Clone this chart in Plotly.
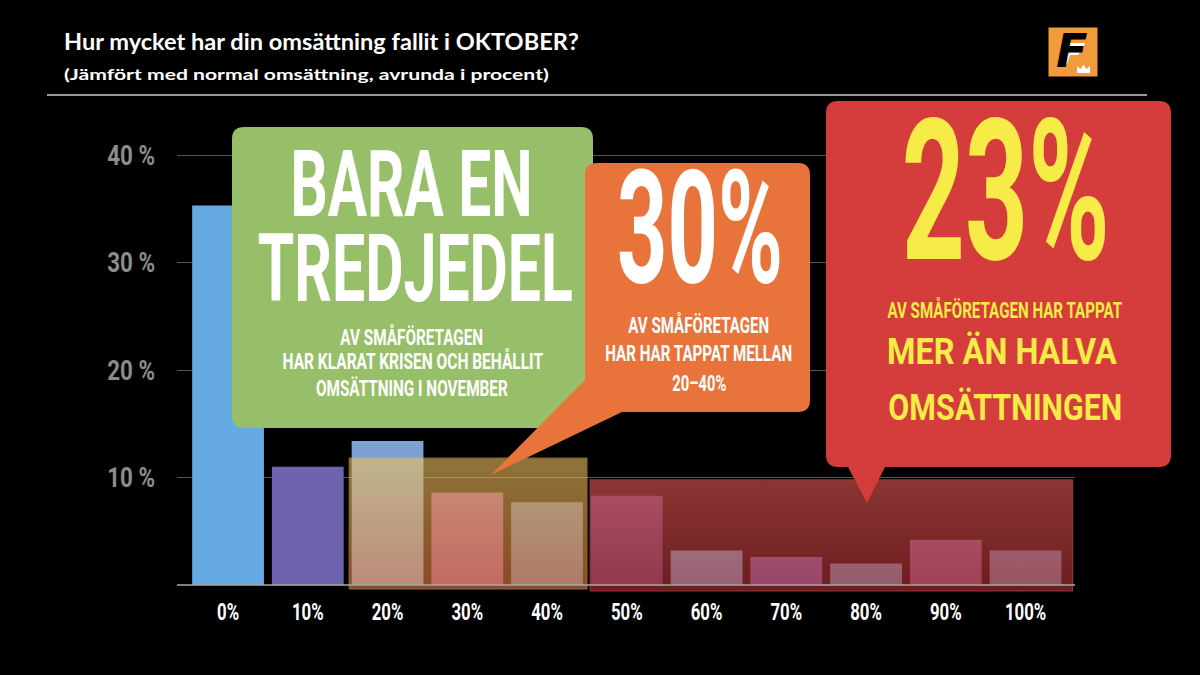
import json
import plotly.graph_objects as go

# ---------------- data ----------------
categories = ["0%", "10%", "20%", "30%", "40%", "50%", "60%", "70%", "80%", "90%", "100%"]
shares = [35.3, 11.0, 13.4, 8.6, 7.7, 8.3, 3.2, 2.6, 2.0, 4.2, 3.2]
y_tick_vals = [10, 20, 30, 40]
y_tick_text = ["10 %", "20 %", "30 %", "40 %"]

bar_colors = ["#66AAE3", "#6D63AE", "#7DA1D3", "#8F4B98", "#5A76A8", "#564478",
              "#62AFD7", "#6964B9", "#629BBE", "#735891", "#628CAC"]

# highlighted category groups (index ranges) drawn as translucent gradient panels
highlight_groups = [
    dict(first=2, last=4, pad_l=0.48, pad_r=0.50, top=11.8, bottom=-0.37,
         c_top="#EDC35F", c_bot="#E67B3E", edge="#F0B050"),
    dict(first=5, last=10, pad_l=0.46, pad_r=0.59, top=9.77, bottom=-0.56,
         c_top="#E65A57", c_bot="#B72F32", edge="#E06060"),
]

# ---------------- layout geometry ----------------
W, H = 1200, 675
ML, MR, MT, MB = 177, 125, 140, 75
PW, PH = W - ML - MR, H - MT - MB


def fx(x):
    return (x - ML) / PW


def fy(y):
    return (H - MB - y) / PH


def path(cmds):
    out = []
    for op, pts in cmds:
        if op == "Z":
            out.append("Z")
            continue
        coords = [f"{fx(pts[i]):.5f},{fy(pts[i + 1]):.5f}" for i in range(0, len(pts), 2)]
        out.append(op + " " + " ".join(coords))
    return " ".join(out)


COND = "Roboto, 'DejaVu Sans', sans-serif"
TITLE_FONT = "Lato, 'Open Sans', sans-serif"

fig = go.Figure()

fig.add_trace(go.Bar(
    x=list(range(len(categories))), y=shares, width=0.9,
    marker=dict(color=bar_colors, line=dict(width=0)),
    hoverinfo="skip", showlegend=False,
))

for g in highlight_groups:
    x0 = g["first"] - g["pad_l"]
    x1 = g["last"] + g["pad_r"]
    fig.add_trace(go.Scatter(
        x=[x0, x1, x1, x0, x0], y=[g["bottom"], g["bottom"], g["top"], g["top"], g["bottom"]],
        mode="lines", line=dict(width=1.2, color=g["edge"]), fill="toself",
        fillgradient=dict(type="vertical", colorscale=[[0, g["c_bot"]], [1, g["c_top"]]]),
        opacity=0.6, hoverinfo="skip", showlegend=False,
    ))

shapes = []
# separator under title
shapes.append(dict(type="line", xref="paper", yref="paper", x0=fx(47), x1=fx(1147), y0=fy(95), y1=fy(95),
                   line=dict(color="#9A9A9A", width=2), layer="above"))
# baseline
shapes.append(dict(type="line", xref="paper", yref="y", x0=0, x1=1, y0=0, y1=0,
                   line=dict(color="#A8A8A8", width=1.5), layer="above"))

# green callout
gx0, gy0, gx1, gy1, r = 232, 127, 593, 428, 12
shapes.append(dict(type="path", xref="paper", yref="paper", layer="above", fillcolor="#97BF69",
                   line=dict(width=0), path=path([
                       ("M", [gx0 + r, gy0]), ("L", [gx1 - r, gy0]), ("Q", [gx1, gy0, gx1, gy0 + r]),
                       ("L", [gx1, gy1 - r]), ("Q", [gx1, gy1, gx1 - r, gy1]), ("L", [gx0 + r, gy1]),
                       ("Q", [gx0, gy1, gx0, gy1 - r]), ("L", [gx0, gy0 + r]), ("Q", [gx0, gy0, gx0 + r, gy0]),
                       ("Z", [])])))
# orange callout
ox0, oy0, ox1, oy1 = 585, 163, 810, 412
shapes.append(dict(type="path", xref="paper", yref="paper", layer="above", fillcolor="#E8743B",
                   line=dict(width=0), path=path([
                       ("M", [ox0 + r, oy0]), ("L", [ox1 - r, oy0]), ("Q", [ox1, oy0, ox1, oy0 + r]),
                       ("L", [ox1, oy1 - r]), ("Q", [ox1, oy1, ox1 - r, oy1]), ("L", [622, oy1]),
                       ("L", [491, 475]), ("L", [ox0, 380]), ("L", [ox0, oy0 + r]),
                       ("Q", [ox0, oy0, ox0 + r, oy0]), ("Z", [])])))
# red callout
rx0, ry0, rx1, ry1 = 826, 101, 1171, 467
shapes.append(dict(type="path", xref="paper", yref="paper", layer="above", fillcolor="#D43D3C",
                   line=dict(width=0), path=path([
                       ("M", [rx0 + r, ry0]), ("L", [rx1 - r, ry0]), ("Q", [rx1, ry0, rx1, ry0 + r]),
                       ("L", [rx1, ry1 - r]), ("Q", [rx1, ry1, rx1 - r, ry1]), ("L", [885, ry1]),
                       ("L", [867, 503]), ("L", [848, ry1]), ("L", [rx0 + r, ry1]),
                       ("Q", [rx0, ry1, rx0, ry1 - r]), ("L", [rx0, ry0 + r]),
                       ("Q", [rx0, ry0, rx0 + r, ry0]), ("Z", [])])))
# logo
shapes.append(dict(type="rect", xref="paper", yref="paper", x0=fx(1048), x1=fx(1098), y0=fy(77), y1=fy(27),
                   fillcolor="#F29B3D", line=dict(color="#000000", width=1), layer="above"))
# white inner highlight of the F
shapes.append(dict(type="path", xref="paper", yref="paper", layer="above", fillcolor="#FFFFFF",
                   line=dict(width=0), path=path([
                       ("M", [1069, 43]), ("L", [1085, 43]), ("L", [1083.5, 47]), ("L", [1073, 47]),
                       ("L", [1071.5, 51]), ("L", [1080, 51]), ("L", [1078.5, 55]), ("L", [1070, 55]),
                       ("L", [1067, 64]), ("L", [1064, 64]), ("Z", [])])))
shapes.append(dict(type="path", xref="paper", yref="paper", layer="above", fillcolor="#FFFFFF",
                   line=dict(width=0), path=path([
                       ("M", [1077, 73]), ("L", [1077, 66]), ("L", [1080.5, 69]), ("L", [1083.5, 64.5]),
                       ("L", [1086.5, 69]), ("L", [1090, 66]), ("L", [1090, 73]), ("Z", [])])))

annotations = []
targets = []


def txt(text, cx, cy, size, color, width=None, family=COND, anchor="center", weight=700, style="normal"):
    annotations.append(dict(
        text=text, xref="paper", yref="paper", x=fx(cx), y=fy(cy), xanchor=anchor, yanchor="middle",
        showarrow=False, align="left" if anchor == "left" else "center",
        font=dict(family=family, size=size, color=color, weight=weight, style=style),
    ))
    targets.append([width, anchor] if width else None)


WHITE = "#FFFFFF"
YELLOW = "#F7EB47"

txt("Hur mycket har din omsättning fallit i OKTOBER?", 62, 41, 22, WHITE, 515, TITLE_FONT, "left")
txt("(Jämfört med normal omsättning, avrunda i procent)", 62, 73, 16, WHITE, 485, TITLE_FONT, "left")

txt("BARA EN", 411, 184.5, 92, WHITE, 242)
txt("TREDJEDEL", 415.5, 268.5, 94, WHITE, 315)
txt("AV SMÅFÖRETAGEN", 411.5, 337, 22, WHITE, 143)
txt("HAR KLARAT KRISEN OCH BEHÅLLIT", 412.5, 361, 22, WHITE, 261)
txt("OMSÄTTNING I NOVEMBER", 412, 388, 22, WHITE, 192)

txt("30%", 700, 228, 158, WHITE, 166)
txt("AV SMÅFÖRETAGEN", 698, 325, 22, WHITE, 141)
txt("HAR HAR TAPPAT MELLAN", 698.5, 353, 22, WHITE, 187)
txt("20–40%", 699, 383, 22, WHITE, 54)

txt("23%", 1006, 191.7, 197, YELLOW, 208)
txt("AV SMÅFÖRETAGEN HAR TAPPAT", 1004.5, 309.5, 22, YELLOW, 235)
txt("MER ÄN HALVA", 1002, 351.3, 37, YELLOW, 230)
txt("OMSÄTTNINGEN", 1005, 407, 37, YELLOW, 234)

# logo letter
txt("F", 1071, 51, 46, "#000000", None, "'DejaVu Sans', sans-serif", "center", 700, "italic")

fig.update_layout(
    width=W, height=H, margin=dict(l=ML, r=MR, t=MT, b=MB),
    paper_bgcolor="#000000", plot_bgcolor="#000000",
    showlegend=False, shapes=shapes, annotations=annotations,
    bargap=0.1,
    xaxis=dict(range=[-0.64, 10.62], tickvals=list(range(len(categories))), ticktext=categories,
               showgrid=False, zeroline=False, showline=False, ticks="", ticklabelstandoff=-5,
               tickfont=dict(family=COND, size=24, color=WHITE, weight=700), fixedrange=True),
    yaxis=dict(range=[-1.395, 41.395], tickvals=y_tick_vals, ticktext=y_tick_text,
               showgrid=True, gridcolor="#555555", gridwidth=1, zeroline=False, showline=False,
               ticks="", ticklabelstandoff=21,
               tickfont=dict(family=COND, size=28, color="#8C8C8C", weight=700), fixedrange=True),
)

post_js = """
document.documentElement.style.margin = '0';
document.body.style.margin = '0';
document.body.style.padding = '0';
document.body.style.background = '#000';
var gd = document.getElementById('{plot_id}');
var T = TARGETS;
function squeeze(el, s, pivot){
  var bb = el.getBBox();
  var p = pivot === 'left' ? bb.x : (pivot === 'right' ? bb.x + bb.width : bb.x + bb.width / 2);
  var tr = el.getAttribute('transform') || '';
  el.setAttribute('transform', tr + ' translate(' + p + ',0) scale(' + s + ',1) translate(' + (-p) + ',0)');
}
var anns = gd.querySelectorAll('g.annotation');
T.forEach(function(t, i){
  if (!t) return;
  var g = gd.querySelector('g.annotation[data-index="' + i + '"]') || anns[i];
  if (!g) return;
  var el = g.querySelector('text');
  if (!el) return;
  var w = el.getBBox().width;
  if (w > 0) squeeze(el, t[0] / w, t[1]);
});
gd.querySelectorAll('g.xtick text').forEach(function(el){ squeeze(el, 0.70, 'center'); });
gd.querySelectorAll('g.ytick text').forEach(function(el){ squeeze(el, 0.80, 'right'); });
""".replace("TARGETS", json.dumps(targets))

fig.write_html("out.html", post_script=post_js, config={"displayModeBar": False})
